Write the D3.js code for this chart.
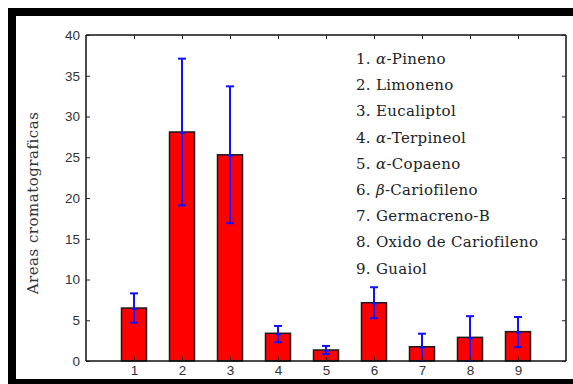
<!DOCTYPE html>
<html>
<head>
<meta charset="utf-8">
<script src="https://cdn.jsdelivr.net/npm/d3@7"></script>
<style>
  body { margin: 0; background: #fff; }
  svg { display: block; }
</style>
</head>
<body>
<svg width="573" height="384"></svg>
<script>
// data
var categories = [1, 2, 3, 4, 5, 6, 7, 8, 9];
var areas = [6.5, 28.1, 25.3, 3.4, 1.35, 7.15, 1.75, 2.9, 3.6];
var errUp = [1.8, 9.0, 8.4, 0.9, 0.5, 1.9, 1.6, 2.6, 1.8];
var errDown = [1.8, 9.0, 8.4, 1.1, 0.5, 1.9, 1.75, 2.9, 1.9];
var yTicks = [0, 5, 10, 15, 20, 25, 30, 35, 40];
var compounds = [
  ["1. ", "α", "-Pineno"],
  ["2. ", "", "Limoneno"],
  ["3. ", "", "Eucaliptol"],
  ["4. ", "α", "-Terpineol"],
  ["5. ", "α", "-Copaeno"],
  ["6. ", "β", "-Cariofileno"],
  ["7. ", "", "Germacreno-B"],
  ["8. ", "", "Oxido de Cariofileno"],
  ["9. ", "", "Guaiol"]
];

var svg = d3.select("svg");
var margin = {left: 86, top: 35, right: 566, bottom: 361};

// black frame (like the screenshot border)
svg.append("rect").attr("x", 8).attr("y", 8).attr("width", 565).attr("height", 8).attr("fill", "#000");
svg.append("rect").attr("x", 8).attr("y", 8).attr("width", 8).attr("height", 376).attr("fill", "#000");
svg.append("rect").attr("x", 8).attr("y", 379).attr("width", 565).attr("height", 5).attr("fill", "#000");

var x = d3.scaleLinear().domain([0, 10]).range([margin.left, margin.right]);
var y = d3.scaleLinear().domain([0, 40]).range([margin.bottom, margin.top]);
var barW = 25;

// bars
svg.selectAll(".bar")
  .data(categories)
  .enter().append("rect")
    .attr("class", "bar")
    .attr("x", function(d) { return x(d) - barW / 2; })
    .attr("y", function(d, i) { return y(areas[i]); })
    .attr("width", barW)
    .attr("height", function(d, i) { return y(0) - y(areas[i]); })
    .attr("fill", "#ff0000")
    .attr("stroke", "#1a1a1a")
    .attr("stroke-width", 1.5);

// error bars
var eb = svg.append("g").attr("stroke", "#1010ff").attr("stroke-width", 2);
categories.forEach(function(c, i) {
  var cx = x(c), lo = y(Math.max(0, areas[i] - errDown[i])), hi = y(areas[i] + errUp[i]);
  eb.append("line").attr("x1", cx).attr("x2", cx).attr("y1", lo).attr("y2", hi);
  eb.append("line").attr("x1", cx - 4).attr("x2", cx + 4).attr("y1", hi).attr("y2", hi);
  eb.append("line").attr("x1", cx - 4).attr("x2", cx + 4).attr("y1", lo).attr("y2", lo);
  eb.append("line").attr("x1", cx - 2).attr("x2", cx + 3).attr("y1", y(areas[i]) + 1).attr("y2", y(areas[i]) + 1).attr("stroke-width", 1.5);
});

// axes box
var box = svg.append("g").attr("stroke", "#111").attr("fill", "none");
box.append("line").attr("x1", margin.left).attr("x2", margin.right).attr("y1", margin.bottom).attr("y2", margin.bottom).attr("stroke-width", 1.5);
box.append("line").attr("x1", margin.left).attr("x2", margin.left).attr("y1", margin.top).attr("y2", margin.bottom).attr("stroke-width", 1.5);
box.append("line").attr("x1", margin.left).attr("x2", margin.right).attr("y1", margin.top).attr("y2", margin.top).attr("stroke-width", 1.5);
box.append("line").attr("x1", margin.right).attr("x2", margin.right).attr("y1", margin.top).attr("y2", margin.bottom).attr("stroke-width", 1.5);

// left axis ticks (inward) + labels
var yAxis = d3.axisLeft(y).tickValues(yTicks).tickSize(-4).tickPadding(6).tickFormat(d3.format("d"));
var gy = svg.append("g").attr("transform", "translate(" + margin.left + ",0)").call(yAxis);
gy.select(".domain").remove();
gy.selectAll("line").attr("stroke", "#222");
gy.selectAll("text").attr("font-family", "Liberation Sans, Arial, sans-serif").attr("font-size", 13.5).attr("fill", "#333");

// right axis ticks (inward)
var gyr = svg.append("g").attr("transform", "translate(" + margin.right + ",0)")
  .call(d3.axisRight(y).tickValues(yTicks).tickSize(-4).tickFormat(""));
gyr.select(".domain").remove();
gyr.selectAll("line").attr("stroke", "#222");

// bottom axis labels
var xAxis = d3.axisBottom(x).tickValues(categories).tickSize(-4).tickPadding(4).tickFormat(d3.format("d"));
var gx = svg.append("g").attr("transform", "translate(0," + margin.bottom + ")").call(xAxis);
gx.select(".domain").remove();
gx.selectAll("line").attr("stroke", "#222");
gx.selectAll("text").attr("font-family", "Liberation Sans, Arial, sans-serif").attr("font-size", 13.5).attr("fill", "#333");

// top ticks (inward)
var gxt = svg.append("g").attr("transform", "translate(0," + margin.top + ")")
  .call(d3.axisTop(x).tickValues(categories).tickSize(-4).tickFormat(""));
gxt.select(".domain").remove();
gxt.selectAll("line").attr("stroke", "#222");

// y label
svg.append("text")
  .attr("transform", "translate(38,203) rotate(-90)")
  .attr("text-anchor", "middle")
  .attr("font-family", "DejaVu Serif, serif")
  .attr("font-size", 15)
  .attr("letter-spacing", 0.5)
  .attr("fill", "#333")
  .text("Areas cromatograficas");

// compound list
var legend = svg.append("g")
  .attr("font-family", "DejaVu Serif, serif")
  .attr("font-size", 15)
  .attr("letter-spacing", 0.3)
  .attr("fill", "#222");
compounds.forEach(function(c, i) {
  var t = legend.append("text").attr("x", 356).attr("y", 64 + i * 26.2);
  t.append("tspan").text(c[0]);
  if (c[1]) t.append("tspan").attr("font-style", "italic").text(c[1]);
  t.append("tspan").text(c[2]);
});
</script>
</body>
</html>
